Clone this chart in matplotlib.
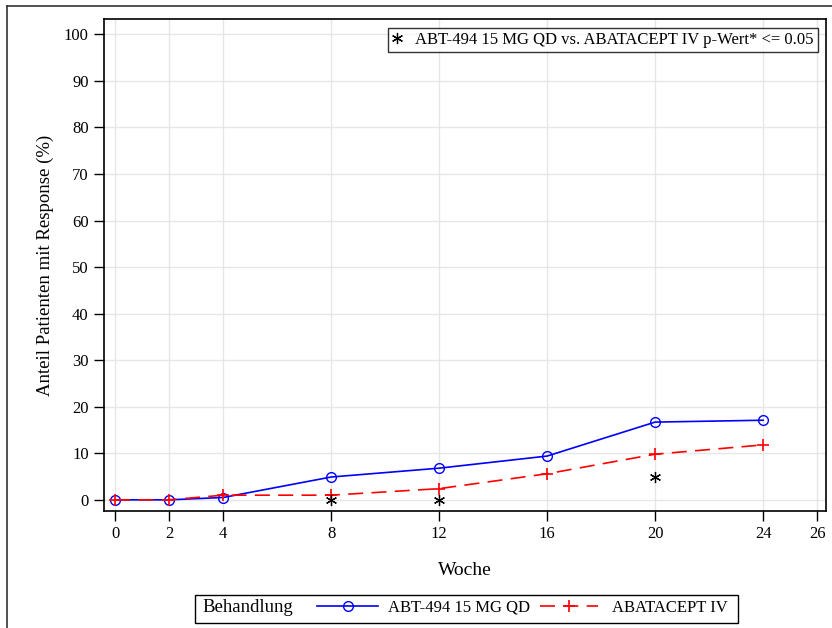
import matplotlib
matplotlib.use("Agg")
import matplotlib.pyplot as plt
from matplotlib.lines import Line2D
from matplotlib.patches import Rectangle

plt.rcParams['font.family'] = ['Liberation Serif', 'DejaVu Serif']

weeks = [0, 2, 4, 8, 12, 16, 20, 24]
abt = [0.0, 0.0, 0.5, 4.9, 6.8, 9.4, 16.7, 17.1]
aba = [0.0, 0.0, 1.0, 1.0, 2.4, 5.6, 9.8, 11.8]
sig_weeks = [8, 12, 20]
sig_vals = [0.0, 0.0, 4.8]
xticks = [0, 2, 4, 8, 12, 16, 20, 24, 26]
yticks = [0, 10, 20, 30, 40, 50, 60, 70, 80, 90, 100]

W, H = 832, 628
fig = plt.figure(figsize=(W / 100, H / 100), dpi=100)
ax = fig.add_axes([104 / W, 1 - 511 / H, (826 - 104) / W, (511 - 19) / H])

ax.set_xlim(-0.41, 26.33)
ax.set_ylim(-2.4, 103.3)
ax.set_xticks(xticks)
ax.set_yticks(yticks)
ax.grid(True, color='#e6e6e6', linewidth=1.0)
ax.set_axisbelow(True)
for s in ax.spines.values():
    s.set_linewidth(1.2)
    s.set_color('black')
ax.tick_params(direction='out', length=7, width=1.0, labelsize=12, colors='black', pad=4)

l1, = ax.plot(weeks, abt, color='#0000ff', linewidth=1.2, marker='o', markersize=7,
              markerfacecolor='none', markeredgecolor='#0000ff', markeredgewidth=1.0, zorder=3)
l2, = ax.plot(weeks, aba, color='#ff0000', linewidth=1.2, linestyle=(0, (9, 5)), marker='+',
              markersize=8, markeredgewidth=1.2, zorder=3)
st, = ax.plot(sig_weeks, sig_vals, linestyle='none', marker=(6, 2, 0), markersize=8,
              color='black', markeredgewidth=0.9, zorder=4)

ax.set_xlabel('Woche', fontsize=14, labelpad=14)
ax.set_ylabel('Anteil Patienten mit Response (%)', fontsize=13.5, labelpad=7)

leg = ax.legend([st], ['ABT-494 15 MG QD vs. ABATACEPT IV p-Wert* <= 0.05'],
                loc='upper right', bbox_to_anchor=(1 - 8 / 722, 1 - 9 / 492), fontsize=12,
                frameon=True, fancybox=False, handlelength=0.6, handletextpad=0.8,
                borderpad=0.25, borderaxespad=0.0)
leg.get_frame().set_edgecolor('black')
leg.get_frame().set_linewidth(1.0)

# bottom legend
fig.add_artist(Rectangle((195 / W, 1 - 623 / H), (738 - 195) / W, (623 - 595) / H,
                         transform=fig.transFigure, fill=False, edgecolor='black', linewidth=1.0))
fig.text(202 / W, 1 - 608 / H, 'Behandlung', fontsize=13.5, va='center', ha='left')
fig.legend([l1], ['ABT-494 15 MG QD'],
           loc='center left', bbox_to_anchor=(317 / W, 1 - 608 / H), fontsize=12,
           frameon=False, handlelength=3.66, handletextpad=0.6,
           borderpad=0.0, borderaxespad=0.0)
fig.legend([l2], ['ABATACEPT IV'],
           loc='center left', bbox_to_anchor=(540 / W, 1 - 608 / H), fontsize=12,
           frameon=False, handlelength=3.5, handletextpad=0.84,
           borderpad=0.0, borderaxespad=0.0)

# outer frame
fig.add_artist(Line2D([7 / W, 7 / W], [0, 1 - 6 / H], transform=fig.transFigure,
                      color='#333333', linewidth=1.2))
fig.add_artist(Line2D([7 / W, 1], [1 - 6 / H, 1 - 6 / H], transform=fig.transFigure,
                      color='#333333', linewidth=1.2))

fig.savefig('out.png', dpi=100)
